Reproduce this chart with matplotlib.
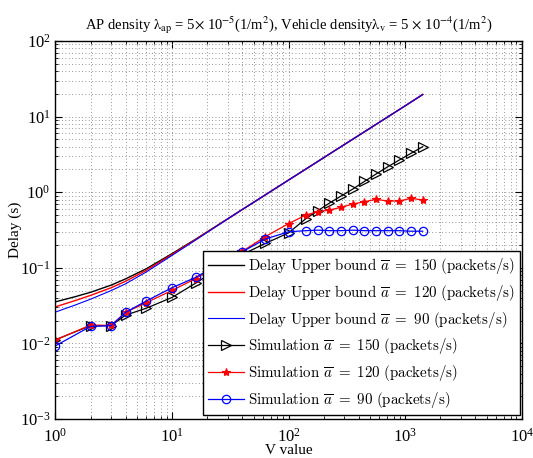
import numpy as np
import matplotlib
matplotlib.use("Agg")
import matplotlib.pyplot as plt
from matplotlib.font_manager import FontProperties
from matplotlib.ticker import LogLocator, NullFormatter

plt.rcParams["font.family"] = "Liberation Serif"
plt.rcParams["mathtext.fontset"] = "stix"

# upper bound curves
v_bound = [1, 1.5, 2, 3, 4, 6, 10, 16, 25, 40, 63, 100, 158, 251, 398, 631, 1000, 1413]
ub_150 = [0.0355, 0.0418, 0.0475, 0.059, 0.0715, 0.097, 0.154, 0.240, 0.372, 0.59, 0.92,
          1.45, 2.27, 3.58, 5.62, 8.84, 13.9, 19.6]
ub_120 = [0.0305, 0.0372, 0.0432, 0.0545, 0.0665, 0.0925, 0.150, 0.237, 0.370, 0.59, 0.92,
          1.45, 2.27, 3.58, 5.62, 8.84, 13.9, 19.6]
ub_90 = [0.026, 0.0325, 0.0385, 0.050, 0.0615, 0.088, 0.146, 0.234, 0.368, 0.59, 0.92,
         1.45, 2.27, 3.58, 5.62, 8.84, 13.9, 19.6]

# simulation results
v_sim = [1, 2, 3, 4, 6, 10, 16, 25, 40, 63, 100, 141, 178, 224, 282, 355, 447, 562,
         708, 891, 1122, 1413]
sim_150 = [0.0112, 0.0172, 0.0172, 0.0237, 0.0292, 0.0406, 0.0629, 0.098, 0.15, 0.21,
           0.29, 0.449, 0.569, 0.719, 0.891, 1.10, 1.39, 1.74, 2.17, 2.67, 3.27, 4.0]
sim_120 = [0.0111, 0.0175, 0.0173, 0.0258, 0.0346, 0.0503, 0.0722, 0.11, 0.165, 0.258,
           0.385, 0.50, 0.552, 0.582, 0.631, 0.698, 0.748, 0.805, 0.765, 0.765, 0.83, 0.789]
sim_90 = [0.0093, 0.0168, 0.0172, 0.0258, 0.0364, 0.0546, 0.0748, 0.112, 0.163, 0.240,
          0.30, 0.31, 0.315, 0.31, 0.31, 0.315, 0.31, 0.31, 0.31, 0.31, 0.305, 0.305]

fig = plt.figure(figsize=(5.33, 4.58), dpi=100)
ax = fig.add_axes([0.104, 0.085, 0.875, 0.8255])

lab = r"$\mathrm{Delay\ Upper\ bound}\ \overline{a}\ =\ %d\ \mathrm{(packets/s)}$"
sim = r"$\mathrm{Simulation}\ \overline{a}\ =\ %d\ \mathrm{(packets/s)}$"

ax.plot(v_bound, ub_150, color="black", lw=1.0, label=lab % 150)
ax.plot(v_bound, ub_120, color="red", lw=1.0, label=lab % 120)
ax.plot(v_bound, ub_90, color="blue", lw=0.8, label=lab % 90)
ax.plot(v_sim, sim_150, color="black", lw=0.9, marker=">", ms=6.5, mfc="none", mew=0.9,
        label=sim % 150)
ax.plot(v_sim, sim_120, color="red", lw=0.9, marker="*", ms=6, mew=0.8,
        label=sim % 120)
ax.plot(v_sim, sim_90, color="blue", lw=0.9, marker="o", ms=6, mfc="none", mew=0.9,
        label=sim % 90)

ax.set_xscale("log")
ax.set_yscale("log")
ax.set_xlim(1, 1e4)
ax.set_ylim(1e-3, 1e2)

for axis in (ax.xaxis, ax.yaxis):
    axis.set_major_locator(LogLocator(base=10, numticks=10))
    axis.set_minor_locator(LogLocator(base=10, subs=np.arange(2, 10), numticks=20))
    axis.set_minor_formatter(NullFormatter())

ax.grid(True, which="both", linestyle=(0, (1, 3)), color="0.45", lw=0.6)
ax.tick_params(which="both", direction="in", top=True, right=True)
ax.tick_params(which="major", length=5, labelsize=12)
ax.tick_params(axis="x", which="major", pad=6)
ax.tick_params(which="minor", length=2.5)
for s in ax.spines.values():
    s.set_linewidth(1.0)

ax.set_xlabel("V value", fontsize=11, labelpad=-1)
ax.set_ylabel("Delay (s)", fontsize=11)
ax.yaxis.set_label_coords(-0.072, 0.5)
ax.set_title(r"AP density $\mathrm{\lambda}_{\mathrm{ap}}$ = 5$\times$ 10$^{-5}$(1/m$^2$), "
             r"Vehicle density$\mathrm{\lambda}_{\mathrm{v}}$ = 5 $\times$ 10$^{-4}$(1/m$^2$)",
             fontsize=10.5, pad=8)

leg = ax.legend(loc="lower right", bbox_to_anchor=(0.996, 0.0106), borderaxespad=0,
                prop=FontProperties(size=10.8, math_fontfamily="cm"),
                fancybox=False, framealpha=1, edgecolor="black",
                handlelength=2.4, handletextpad=0.25, labelspacing=0.45,
                borderpad=0.35)
leg.get_frame().set_linewidth(1.0)

fig.savefig("out.png", dpi=100)
